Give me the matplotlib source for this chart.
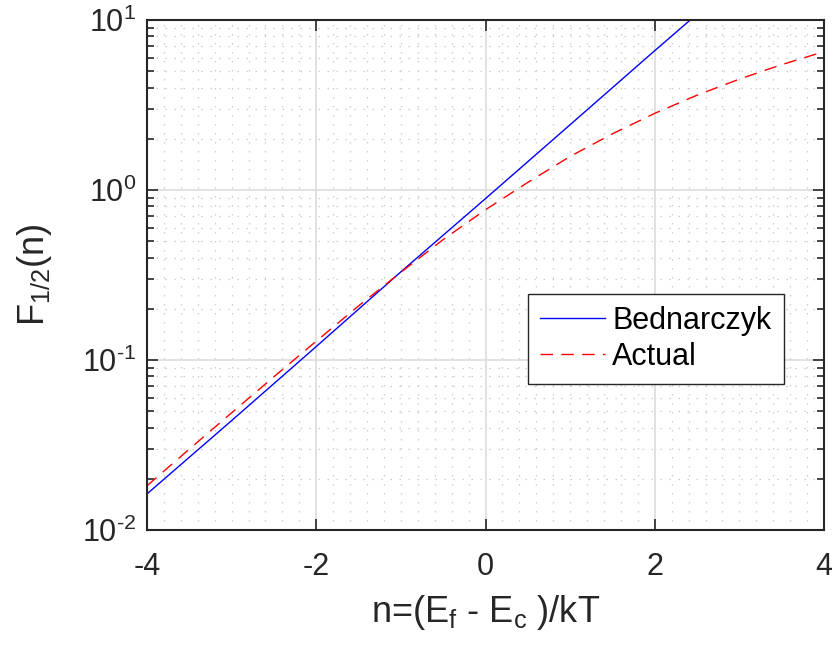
import numpy as np
import matplotlib
matplotlib.use('Agg')
import matplotlib.pyplot as plt
from matplotlib.ticker import LogLocator, MultipleLocator, NullFormatter

plt.rcParams['font.family'] = ['Liberation Sans', 'DejaVu Sans']
plt.rcParams['mathtext.fontset'] = 'custom'
plt.rcParams['mathtext.rm'] = 'Liberation Sans'
plt.rcParams['mathtext.it'] = 'Liberation Sans'

# values
n_bed = [-4, -3, -2, -1, 0, 1, 2, 2.42]
f_bed = [0.0163, 0.044, 0.12, 0.33, 0.89, 2.42, 6.6, 10.0]

n_act = [-4, -3.5, -3, -2.5, -2, -1.5, -1, -0.5, 0, 0.5, 1, 1.5, 2, 2.5, 3, 3.5, 4]
f_act = [0.0182, 0.0299, 0.0489, 0.0797, 0.129, 0.208, 0.328, 0.511, 0.765,
         1.108, 1.576, 2.14, 2.824, 3.61, 4.488, 5.46, 6.51]

x_ticks = [-4, -2, 0, 2, 4]
y_ticks = [1e-2, 1e-1, 1e0, 1e1]
y_labels = [r'$\mathregular{10^{\text{-2}}}$', r'$\mathregular{10^{\text{-1}}}$',
            r'$\mathregular{10^{0}}$', r'$\mathregular{10^{1}}$']

dark = '#262626'

fig = plt.figure(figsize=(8.32, 6.46), dpi=100)
ax = fig.add_axes([0.1767, 0.1796, 0.8137, 0.7895])

ax.plot(n_bed, f_bed, color='#0000ff', lw=1.0, label='Bednarczyk')
ax.plot(n_act, f_act, color='#ff0000', lw=1.0, dashes=(9, 6), label='Actual')

ax.set_yscale('log')
ax.set_xlim(-4, 4)
ax.set_ylim(1e-2, 1e1)

ax.set_xticks(x_ticks)
ax.set_xticklabels([str(v) for v in x_ticks])
ax.xaxis.set_minor_locator(MultipleLocator(0.2))
ax.set_yticks(y_ticks)
ax.set_yticklabels(y_labels)
ax.yaxis.set_minor_locator(LogLocator(base=10, subs=np.arange(2, 10)))
ax.yaxis.set_minor_formatter(NullFormatter())

ax.tick_params(which='both', direction='in', top=True, right=True, colors=dark,
               labelsize=22, width=1.2)
ax.tick_params(which='major', length=8)
ax.tick_params(axis='x', which='major', pad=16)
ax.tick_params(axis='y', which='major', pad=8)
ax.tick_params(axis='x', which='minor', length=0)
ax.tick_params(axis='y', which='minor', length=5)

ax.grid(True, which='major', color='#dcdcdc', lw=1.2, ls='-')
ax.grid(True, which='minor', color='#cccccc', lw=0.9, ls=(0, (1.2, 6)))
ax.set_axisbelow(True)

for s in ax.spines.values():
    s.set_color(dark)
    s.set_linewidth(1.5)

ax.set_xlabel(r'n=(E$_\mathregular{f}$ - E$_\mathregular{c}$ )/kT', fontsize=26, color=dark, labelpad=8)
ax.set_ylabel(r'F$_\mathregular{1/2}$(n)', fontsize=26, color=dark, labelpad=20)

leg = ax.legend(loc='upper left', bbox_to_anchor=(0.563, 0.463), borderaxespad=0,
                fontsize=22, frameon=True, fancybox=False, framealpha=1,
                edgecolor=dark, handlelength=2.1, handletextpad=0.25,
                labelspacing=0.2, borderpad=0.4)
leg.get_frame().set_linewidth(1.0)
for t in leg.get_texts():
    t.set_color('black')

fig.savefig('out.png', dpi=100)
